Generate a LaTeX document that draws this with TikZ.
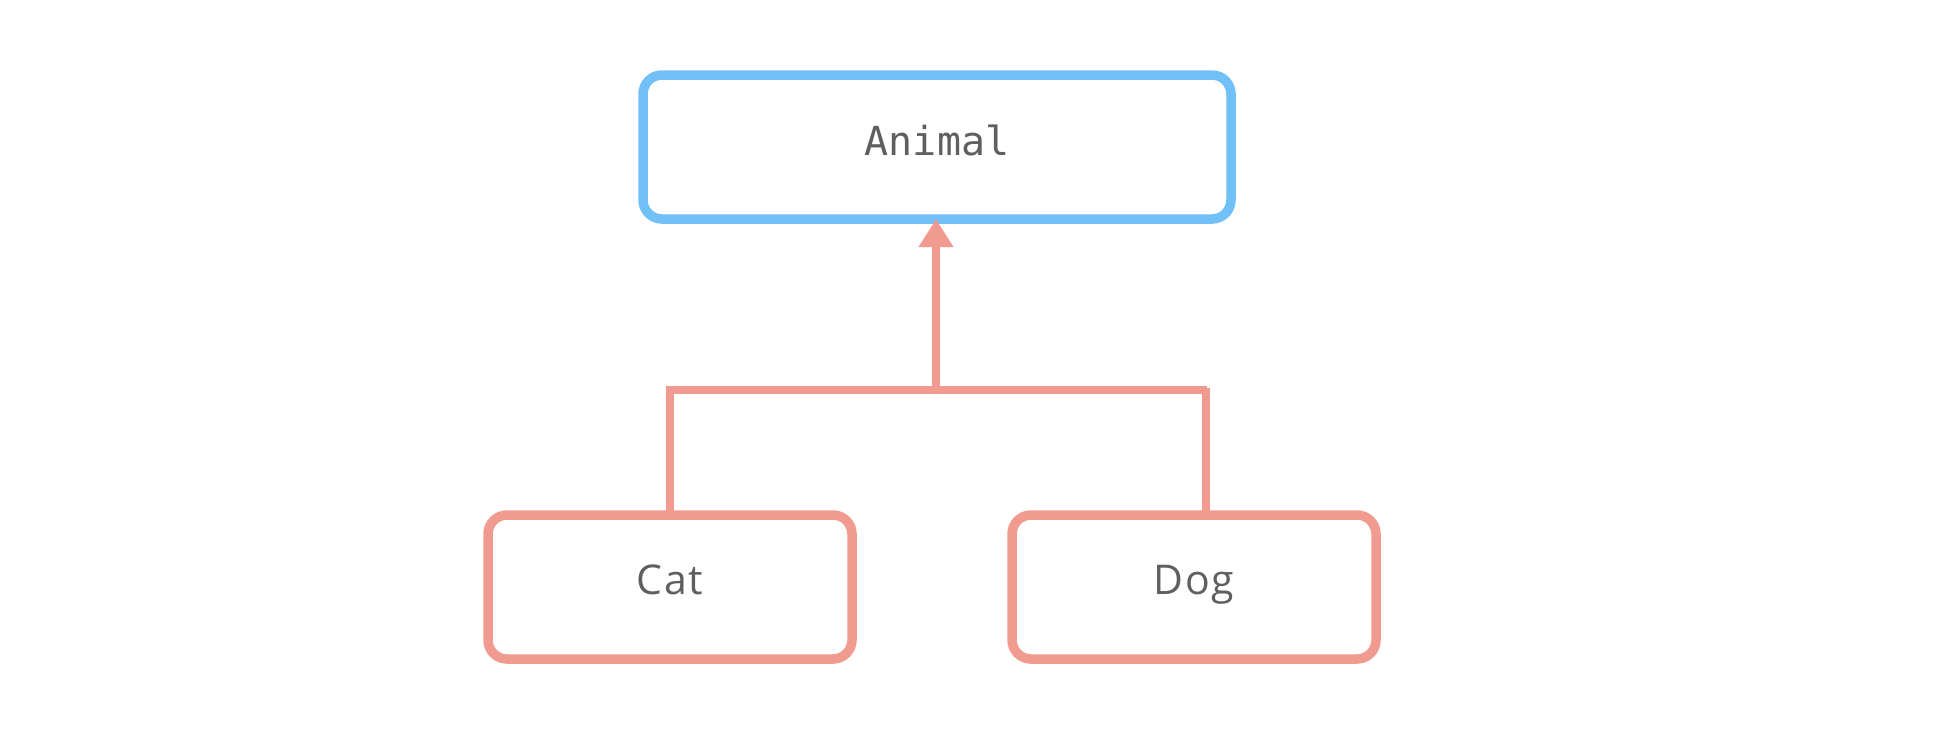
\documentclass[tikz,border=0pt]{standalone}
\usepackage{fontspec}
\usetikzlibrary{arrows.meta}
\newfontfamily\monofnt{DejaVu Sans Mono}
\newfontfamily\sansfnt[LetterSpace=4]{Open Sans}
\definecolor{boxblue}{HTML}{71C0F8}
\definecolor{salmon}{HTML}{F19B90}
\definecolor{txtgray}{HTML}{5F5F5F}
\newcommand{\setbase}[2]{\raisebox{#1}[0pt][0pt]{#2}}
\tikzset{
  classbox/.style={draw, line width=9.5pt, rounded corners=19pt, fill=white,
    inner sep=0pt, outer sep=0pt, text=txtgray},
  parentbox/.style={classbox, draw=boxblue, minimum width=588pt, minimum height=144pt,
    font=\monofnt\fontsize{40}{44}\selectfont},
  childbox/.style={classbox, draw=salmon, minimum width=364pt, minimum height=144pt,
    font=\sansfnt\fontsize{41}{44}\selectfont},
  conn/.style={draw=salmon, line width=7.5pt},
  inherit/.style={conn, -{Triangle[width=33pt,length=28pt]}}
}
\begin{document}
\begin{tikzpicture}[x=1pt,y=-1pt]
\useasboundingbox (0,0) rectangle (1952,734);
\node[parentbox] (animal) at (937,147) {\setbase{-8pt}{Animal}};
\node[childbox] (cat) at (670,587) {\setbase{-7pt}{Cat}};
\node[childbox] (dog) at (1194,587) {\setbase{-7pt}{Dog}};
\coordinate (join) at (936,390);
\coordinate (dogend) at (1203,390);
\coordinate (dogtop) at (1206,388);
\draw[conn, line cap=rect] (cat.north) -- (cat.north |- join) -- (dogend);
\draw[conn] (dogtop) -- (dogtop |- dog.north);
\draw[inherit] (join) -- (join |- animal.south);
\end{tikzpicture}
\end{document}
